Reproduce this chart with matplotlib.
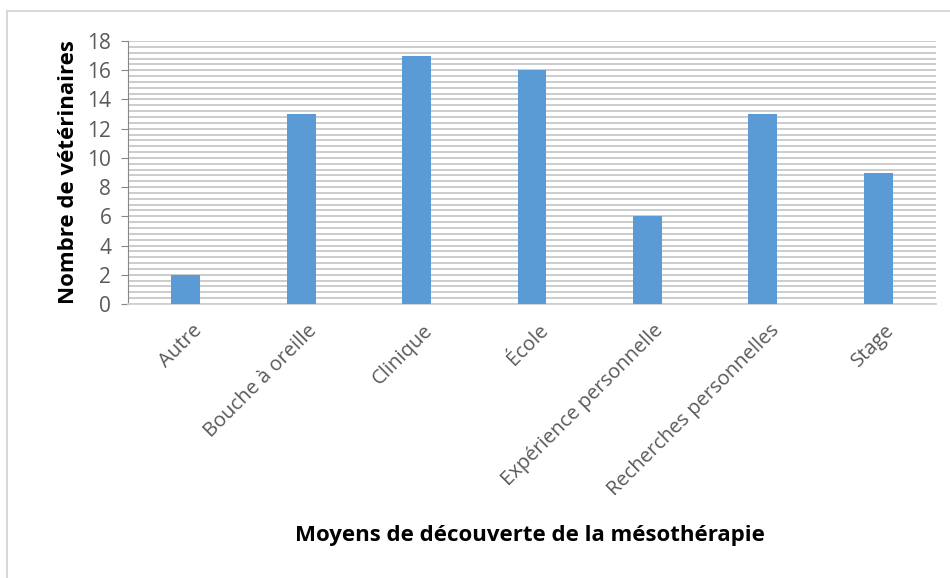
import matplotlib.pyplot as plt
from matplotlib.lines import Line2D
from matplotlib.ticker import MultipleLocator
from matplotlib.transforms import ScaledTranslation
import numpy as np

# data
categories = ['Autre', 'Bouche à oreille', 'Clinique', 'École',
              'Expérience personnelle', 'Recherches personnelles', 'Stage']
counts = [2, 13, 17, 16, 6, 13, 9]
yticks = [0, 2, 4, 6, 8, 10, 12, 14, 16, 18]

plt.rcParams['font.family'] = ['Open Sans', 'DejaVu Sans']

fig = plt.figure(figsize=(9.5, 5.78), dpi=100)
ax = fig.add_axes([128 / 950, 1 - 304 / 578, (936 - 128) / 950, (304 - 41) / 578])

x = np.arange(len(categories))
ax.bar(x, counts, width=0.25, color='#5B9BD5', zorder=3)

ax.set_xlim(-0.5, len(categories) - 0.5)
ax.set_ylim(0, 18)
ax.set_yticks(yticks)
ax.yaxis.set_minor_locator(MultipleLocator(0.4))
ax.grid(which='major', axis='y', color='#c8c8c8', linewidth=1.3, zorder=0)
ax.grid(which='minor', axis='y', color='#c8c8c8', linewidth=1.3, zorder=0)
ax.tick_params(axis='y', which='minor', length=0)
ax.tick_params(axis='y', which='major', length=5, color='#888888',
               labelsize=15, labelcolor='#595959', pad=7)
ax.tick_params(axis='x', length=0, labelsize=14.5, labelcolor='#595959', pad=12)

ax.set_xticks(x)
ax.set_xticklabels(categories, rotation=45, ha='right', rotation_mode='anchor')
shift = ScaledTranslation(6 / 100, 0, fig.dpi_scale_trans)
for lab in ax.get_xticklabels():
    lab.set_transform(lab.get_transform() + shift)

for s in ['top', 'right']:
    ax.spines[s].set_visible(False)
ax.spines['left'].set_color('#888888')
ax.spines['bottom'].set_color('#d0d0d0')
ax.spines['bottom'].set_linewidth(1.3)

ax.set_ylabel('Nombre de vétérinaires', fontsize=16, fontweight='bold', labelpad=6)
fig.text(530 / 950, 1 - 535 / 578, 'Moyens de découverte de la mésothérapie',
         fontsize=16, fontweight='bold', ha='center', va='center')

# light chart frame (left and top edges)
fig.add_artist(Line2D([7 / 950, 7 / 950], [0, 1 - 11 / 578],
                      transform=fig.transFigure, color='#d9d9d9', linewidth=1.5))
fig.add_artist(Line2D([7 / 950, 1], [1 - 11 / 578, 1 - 11 / 578],
                      transform=fig.transFigure, color='#d9d9d9', linewidth=1.5))

fig.savefig('out.png', dpi=100)
